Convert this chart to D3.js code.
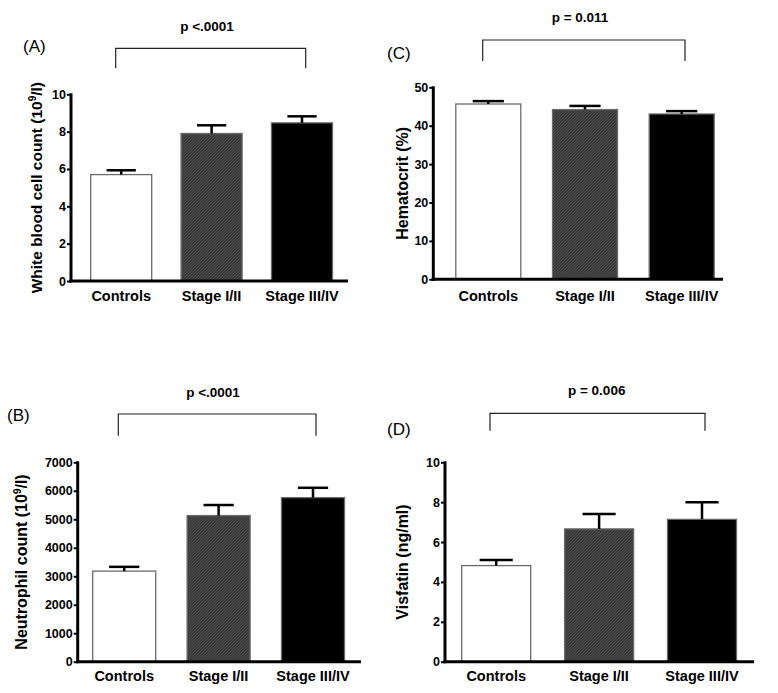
<!DOCTYPE html>
<html>
<head>
<meta charset="utf-8">
<script src="https://cdn.jsdelivr.net/npm/d3@7"></script>
<style>
  body { margin: 0; background: #fff; }
  svg { font-family: "Liberation Sans", Arial, sans-serif; }
  .tick text { font-weight: bold; font-size: 12.5px; fill: #000; }
</style>
</head>
<body>
<div id="holder"></div>
<script>
// data
const groups = ["Controls", "Stage I/II", "Stage III/IV"];

const wbcMean = [5.7, 7.9, 8.47];
const wbcSem = [0.23, 0.44, 0.35];
const wbcTicks = [0, 2, 4, 6, 8, 10];

const neutMean = [3180, 5130, 5760];
const neutSem = [150, 370, 345];
const neutTicks = [0, 1000, 2000, 3000, 4000, 5000, 6000, 7000];

const hctMean = [45.65, 44.2, 43.05];
const hctSem = [0.75, 0.95, 0.75];
const hctTicks = [0, 10, 20, 30, 40, 50];

const visMean = [4.82, 6.66, 7.14];
const visSem = [0.28, 0.75, 0.86];
const visTicks = [0, 2, 4, 6, 8, 10];

const pLabels = ["p <.0001", "p <.0001", "p = 0.011", "p = 0.006"];

const width = 778;
const height = 693;

const svg = d3.select("#holder")
    .append("svg")
    .attr("width", width)
    .attr("height", height);

// hatched dark grey fill of the middle bars
const defs = svg.append("defs");
const pat = defs.append("pattern")
    .attr("id", "hatch")
    .attr("patternUnits", "userSpaceOnUse")
    .attr("width", 3)
    .attr("height", 3);
pat.append("rect").attr("width", 3).attr("height", 3).attr("fill", "#3b3b3b");
pat.append("path").attr("d", "M0,3 L3,0").attr("stroke", "#4a4a4a").attr("stroke-width", 1);

const fills = ["#ffffff", "url(#hatch)", "#000000"];

const panels = [
    { tag: "(A)", tagX: 23, tagY: 52, mean: wbcMean, sem: wbcSem, ticks: wbcTicks, max: 10,
      left: 71, right: 348, top: 94.3, bottom: 281, c0: 121.2, c2: 302, barW: 61,
      xLabY: 301, yTitX: 42, titleSize: 15.5,
      title: ["White blood cell count (10", "9", "/l)"],
      br: [115.7, 305.7, 48.3, 68.3], pX: 207, pY: 30.5, p: pLabels[0] },
    { tag: "(B)", tagX: 7, tagY: 421, mean: neutMean, sem: neutSem, ticks: neutTicks, max: 7000,
      left: 77.7, right: 361, top: 462.3, bottom: 661.7, c0: 124.2, c2: 313, barW: 63,
      xLabY: 681, yTitX: 26.5, titleSize: 16,
      title: ["Neutrophil count (10", "9", "/l)"],
      br: [118.3, 316, 414, 435.7], pX: 213, pY: 396.5, p: pLabels[1] },
    { tag: "(C)", tagX: 387, tagY: 59, mean: hctMean, sem: hctSem, ticks: hctTicks, max: 50,
      left: 433.3, right: 723, top: 87.3, bottom: 279.3, c0: 488.3, c2: 681.7, barW: 65,
      xLabY: 301, yTitX: 408, titleSize: 16,
      title: ["Hematocrit (%)"],
      br: [482.7, 685, 40, 61], pX: 580, pY: 21.5, p: pLabels[2] },
    { tag: "(D)", tagX: 387, tagY: 435, mean: visMean, sem: visSem, ticks: visTicks, max: 10,
      left: 445, right: 754, top: 462.3, bottom: 661.7, c0: 496.2, c2: 702, barW: 69,
      xLabY: 681, yTitX: 408, titleSize: 16,
      title: ["Visfatin (ng/ml)"],
      br: [490, 705, 413.3, 430.7], pX: 596.7, pY: 395, p: pLabels[3] }
];

panels.forEach((pn) => {
    const g = svg.append("g");

    const x = d3.scalePoint().domain(groups).range([pn.c0, pn.c2]);
    const y = d3.scaleLinear().domain([0, pn.max]).range([pn.bottom, pn.top]);

    const rows = groups.map((name, i) => ({ name: name, mean: pn.mean[i], sem: pn.sem[i], fill: fills[i] }));

    // bars
    g.selectAll("rect.bar")
        .data(rows)
        .enter()
        .append("rect")
        .attr("class", "bar")
        .attr("x", (d) => x(d.name) - pn.barW / 2)
        .attr("y", (d) => y(d.mean))
        .attr("width", pn.barW)
        .attr("height", (d) => y(0) - y(d.mean))
        .attr("fill", (d) => d.fill)
        .attr("stroke", "#6a6a6a")
        .attr("stroke-width", 1.3);

    // upper error bars
    g.selectAll("line.err")
        .data(rows)
        .enter()
        .append("line")
        .attr("x1", (d) => x(d.name))
        .attr("x2", (d) => x(d.name))
        .attr("y1", (d) => y(d.mean))
        .attr("y2", (d) => y(d.mean + d.sem))
        .attr("stroke", "#000")
        .attr("stroke-width", 2.5);

    g.selectAll("line.cap")
        .data(rows)
        .enter()
        .append("line")
        .attr("x1", (d) => x(d.name) - pn.barW * 0.24)
        .attr("x2", (d) => x(d.name) + pn.barW * 0.24)
        .attr("y1", (d) => y(d.mean + d.sem))
        .attr("y2", (d) => y(d.mean + d.sem))
        .attr("stroke", "#000")
        .attr("stroke-width", 2.5);

    // y axis
    const yAxis = d3.axisLeft(y)
        .tickValues(pn.ticks)
        .tickSize(4)
        .tickPadding(1)
        .tickFormat(d3.format("d"));

    const ya = g.append("g")
        .attr("transform", `translate(${pn.left}, 0)`)
        .attr("font-family", "'Liberation Sans', Arial, sans-serif")
        .attr("font-weight", "bold")
        .call(yAxis)
        .attr("font-size", 12.5);
    ya.select(".domain").remove();
    ya.selectAll(".tick line").attr("stroke", "#000").attr("stroke-width", 2);

    g.append("line")
        .attr("x1", pn.left).attr("x2", pn.left)
        .attr("y1", pn.top - 1).attr("y2", pn.bottom + 1.5)
        .attr("stroke", "#000").attr("stroke-width", 3);

    // x axis line
    g.append("line")
        .attr("x1", pn.left - 1.5).attr("x2", pn.right)
        .attr("y1", y(0)).attr("y2", y(0))
        .attr("stroke", "#000").attr("stroke-width", 3);

    // category labels
    g.selectAll("text.cat")
        .data(groups)
        .enter()
        .append("text")
        .attr("x", (d) => x(d))
        .attr("y", pn.xLabY)
        .attr("text-anchor", "middle")
        .style("font-size", "14.5px")
        .style("font-weight", "bold")
        .text((d) => d);

    // y title
    const yt = g.append("text")
        .attr("transform", `translate(${pn.yTitX}, ${(pn.top + pn.bottom) / 2}) rotate(-90)`)
        .attr("text-anchor", "middle")
        .style("font-size", pn.titleSize + "px")
        .style("font-weight", "bold");
    if (pn.title.length === 1) {
        yt.text(pn.title[0]);
    } else {
        yt.append("tspan").text(pn.title[0]);
        yt.append("tspan").attr("dy", -6).style("font-size", "10px").text(pn.title[1]);
        yt.append("tspan").attr("dy", 6).text(pn.title[2]);
    }

    // panel tag
    g.append("text")
        .attr("x", pn.tagX)
        .attr("y", pn.tagY)
        .style("font-size", "17px")
        .text(pn.tag);

    // significance bracket
    const [bx1, bx2, by1, by2] = pn.br;
    g.append("path")
        .attr("d", `M${bx1},${by2} V${by1} H${bx2} V${by2}`)
        .attr("fill", "none")
        .attr("stroke", "#222")
        .attr("stroke-width", 1.2);

    g.append("text")
        .attr("x", pn.pX)
        .attr("y", pn.pY)
        .attr("text-anchor", "middle")
        .style("font-size", "13.5px")
        .style("font-weight", "bold")
        .text(pn.p);
});
</script>
</body>
</html>
